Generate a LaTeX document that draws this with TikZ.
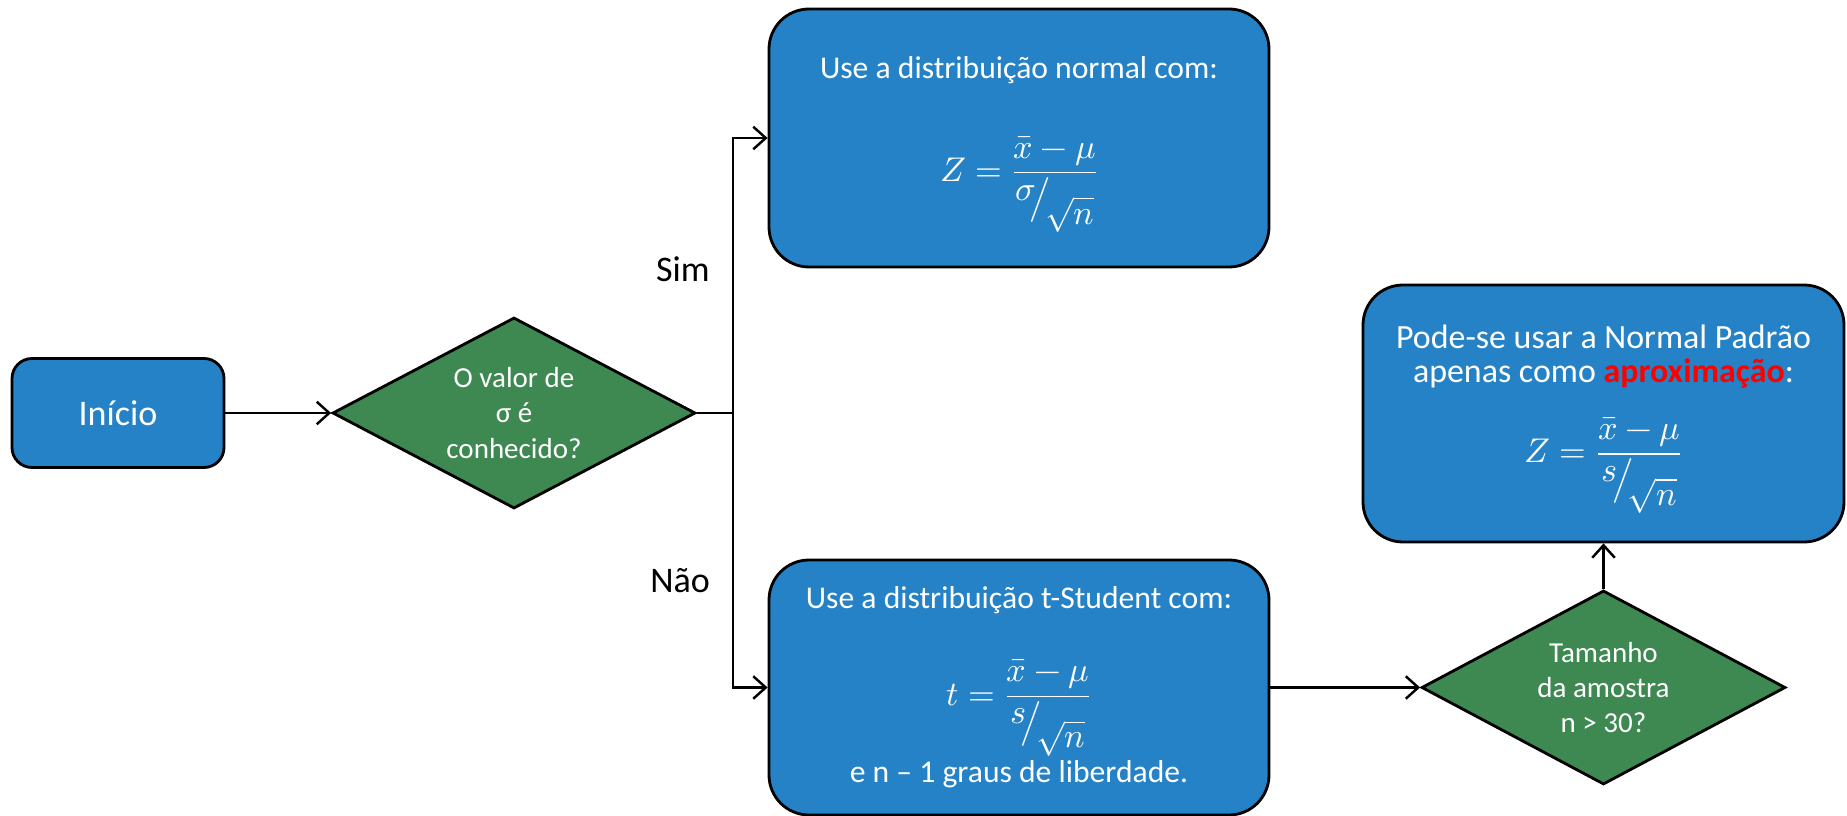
\documentclass[tikz,border=0pt]{standalone}
\usepackage{unicode-math}
\setmainfont{Carlito}
\usetikzlibrary{shapes.geometric, arrows.meta, positioning}
\definecolor{boxblue}{RGB}{38,130,198}
\definecolor{decgreen}{RGB}{62,136,82}
% 斜分式: 分子抬高, 分母降低
\newcommand{\slfrac}[2]{\raisebox{0.25em}{$#1$}\!\big/\!\raisebox{-0.45em}{$#2$}}
% 公式字号
\newcommand{\fml}[1]{{\fontsize{19.5}{23}\selectfont$#1$}}

\begin{document}
\begin{tikzpicture}[
  box/.style={draw=black, line width=1.6pt, fill=boxblue, text=white,
    rounded corners=0.8cm, align=center, font=\fontsize{18}{22}\selectfont},
  startbox/.style={box, rounded corners=0.4cm, font=\fontsize{20.5}{24}\selectfont},
  decision/.style={diamond, draw=black, line width=1.6pt, fill=decgreen, text=white,
    inner sep=0pt, shape aspect=1.9, align=center, font=\fontsize{16.5}{20}\selectfont},
  lbl/.style={font=\fontsize{20.5}{24}\selectfont},
  conn/.style={line width=1.4pt, -{Straight Barb[length=2.5mm, width=4.5mm]}},
  ]
  \useasboundingbox (0,0) rectangle (36.94,-16.32);

  % 开始与判断 sigma
  \node[startbox, minimum width=4.24cm, minimum height=2.18cm] (inicio) at (2.36,-8.26) {Início};
  \node[decision, minimum width=7.26cm, minimum height=3.82cm] (conhecido) at (10.28,-8.26)
    {O valor de\\σ é\\conhecido?};

  % 正态分布与 t 分布
  \node[box, minimum width=10cm, minimum height=5.16cm] (normal) at (20.38,-2.76)
    {\rule{0pt}{1.1em}Use a distribuição normal com:\\[1.6em]
     \fml{Z=\dfrac{\bar{x}-\mu}{\slfrac{\sigma}{\sqrt{n}}}}};
  \node[box, minimum width=10cm, minimum height=5.1cm] (tstudent) at (20.38,-13.75)
    {Use a distribuição t-Student com:\\[1.4em]
     \fml{t=\dfrac{\bar{x}-\mu}{\slfrac{s}{\sqrt{n}}}}\\[0.1em]
     e n – 1 graus de liberdade.};

  % 样本量判断与近似
  \node[decision, minimum width=7.28cm, minimum height=3.88cm] (tamanho) at (32.07,-13.75)
    {Tamanho\\da amostra\\n > 30?};
  \node[box, minimum width=9.62cm, minimum height=5.14cm,
    font=\fontsize{19.3}{19.5}\selectfont] (aprox) at (32.07,-8.27)
    {\rule{0pt}{1.02em}Pode-se usar a Normal Padrão\\
     apenas como \textcolor{red}{\textbf{aproximação}}:\\[0.82em]
     \fml{Z=\dfrac{\bar{x}-\mu}{\slfrac{s}{\sqrt{n}}}}};

  % 分支标记
  \node[lbl] (sim) at (13.66,-5.38) {Sim};
  \node[lbl] (nao) at (13.60,-11.62) {Não};

  % 连线
  \coordinate (jn) at (14.66,-8.26);
  \draw[conn] (inicio.east) -- (conhecido.west);
  \draw[line width=1.4pt] (conhecido.east) -- (jn);
  \draw[conn] (jn) |- (normal.west);
  \draw[conn] (jn) |- (tstudent.west);
  \draw[conn] (tstudent.east) -- (tamanho.west);
  \draw[conn] (tamanho.north) -- (aprox.south);
\end{tikzpicture}
\end{document}
